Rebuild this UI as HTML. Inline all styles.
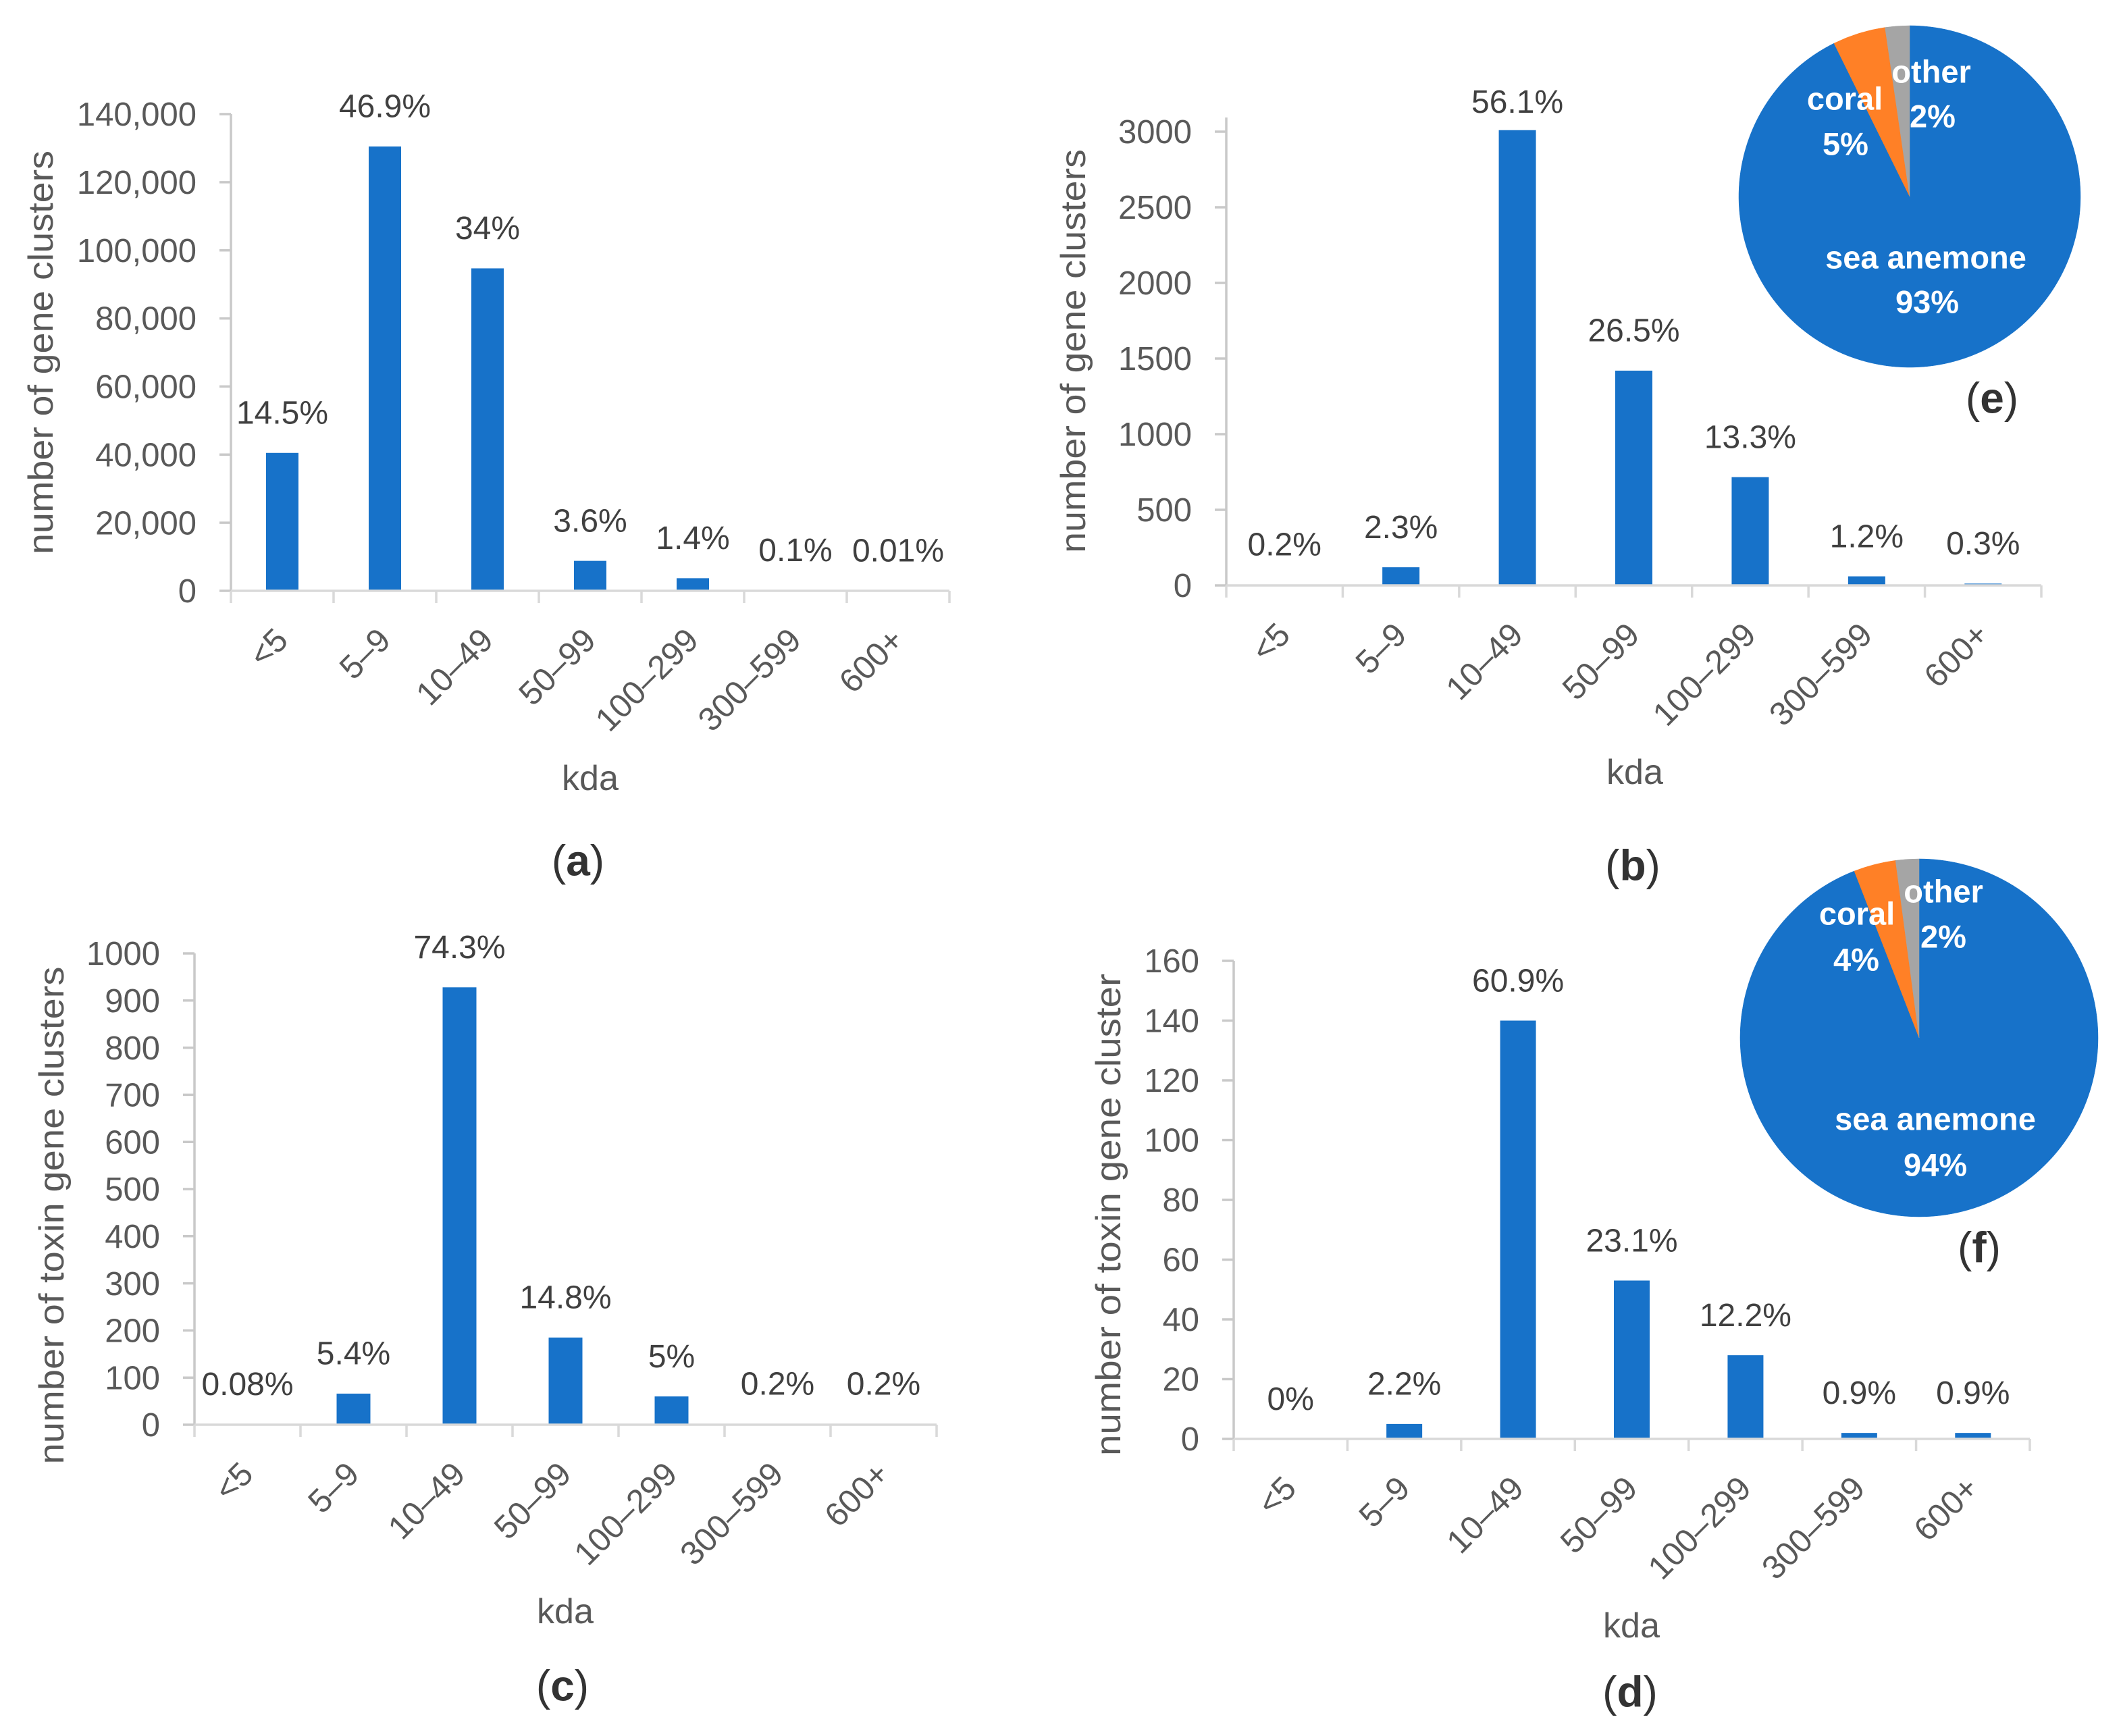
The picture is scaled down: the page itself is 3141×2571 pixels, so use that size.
<!DOCTYPE html>
<html lang="en">
<head>
<meta charset="utf-8">
<title>Size distribution of gene clusters</title>
<style>
html,body{margin:0;padding:0;background:#fff;}
svg{display:block;}
text{font-family:"Liberation Sans",Arial,sans-serif;}
.tick{font-size:49px;fill:#595959;}
.cat{font-size:49px;fill:#595959;}
.val{font-size:48px;fill:#404040;}
.ytitle{font-size:52px;fill:#595959;}
.xtitle{font-size:52px;fill:#595959;}
.panel{font-size:64px;fill:#333;}
.panel tspan{font-weight:bold;}
.pie-text{font-size:47px;font-weight:bold;fill:#fff;}
</style>
</head>
<body>
<svg xmlns="http://www.w3.org/2000/svg" width="3141" height="2571" viewBox="0 0 3141 2571">
  <rect width="3141" height="2571" fill="#fff"/>
  <g id="chart-a"></g>
  <g id="chart-b"></g>
  <g id="chart-c"></g>
  <g id="chart-d"></g>
  <g id="pie-e"></g>
  <g id="pie-f"></g>

  <text class="panel" x="856" y="1274" dy=".35em" text-anchor="middle">(<tspan>a</tspan>)</text>
  <text class="panel" x="2418" y="1281" dy=".35em" text-anchor="middle">(<tspan>b</tspan>)</text>
  <text class="panel" x="833" y="2496" dy=".35em" text-anchor="middle">(<tspan>c</tspan>)</text>
  <text class="panel" x="2414" y="2505" dy=".35em" text-anchor="middle">(<tspan>d</tspan>)</text>
  <text class="panel" x="2950" y="589" dy=".35em" text-anchor="middle">(<tspan>e</tspan>)</text>
  <text class="panel" x="2931" y="1847" dy=".35em" text-anchor="middle">(<tspan>f</tspan>)</text>
</svg>
<script>
var categories = ['<5', '5–9', '10–49', '50–99', '100–299', '300–599', '600+'];

var aValues = [40500, 130500, 94700, 8800, 3700, 200, 20];
var aPercents = ['14.5%', '46.9%', '34%', '3.6%', '1.4%', '0.1%', '0.01%'];
var aTicks = [0, 20000, 40000, 60000, 80000, 100000, 120000, 140000];
var aTickLabels = ['0', '20,000', '40,000', '60,000', '80,000', '100,000', '120,000', '140,000'];

var bValues = [5, 120, 3010, 1420, 716, 60, 12];
var bPercents = ['0.2%', '2.3%', '56.1%', '26.5%', '13.3%', '1.2%', '0.3%'];
var bTicks = [0, 500, 1000, 1500, 2000, 2500, 3000];
var bTickLabels = ['0', '500', '1000', '1500', '2000', '2500', '3000'];

var cValues = [1, 66, 928, 185, 60, 2, 2];
var cPercents = ['0.08%', '5.4%', '74.3%', '14.8%', '5%', '0.2%', '0.2%'];
var cTicks = [0, 100, 200, 300, 400, 500, 600, 700, 800, 900, 1000];
var cTickLabels = ['0', '100', '200', '300', '400', '500', '600', '700', '800', '900', '1000'];

var dValues = [0, 5, 140, 53, 28, 2, 2];
var dPercents = ['0%', '2.2%', '60.9%', '23.1%', '12.2%', '0.9%', '0.9%'];
var dTicks = [0, 20, 40, 60, 80, 100, 120, 140, 160];
var dTickLabels = ['0', '20', '40', '60', '80', '100', '120', '140', '160'];

var eSliceNames = ['sea anemone', 'coral', 'other'];
var eSliceValues = [92.7, 5.0, 2.3];
var fSliceNames = ['sea anemone', 'coral', 'other'];
var fSliceValues = [94.1, 3.8, 2.1];
var sliceColors = ['#1772C9', '#FF8026', '#A5A5A5'];

var NS = 'http://www.w3.org/2000/svg';
var BLUE = '#1772C9';

function make(parent, tag, attrs, content) {
  var el = document.createElementNS(NS, tag);
  for (var k in attrs) { el.setAttribute(k, attrs[k]); }
  if (content !== undefined) { el.textContent = content; }
  parent.appendChild(el);
  return el;
}

function drawBarChart(id, opt, values, percents, ticks, tickLabels) {
  var g = document.getElementById(id);
  var yScale = function (v) { return opt.y0 - (v / opt.max) * (opt.y0 - opt.yMax); };
  var step = (opt.xRight - opt.x0) / categories.length;
  var xScale = function (i) { return opt.x0 + step * (i + 0.5); };

  values.forEach(function (v, i) {
    var top = yScale(v);
    var bar = make(g, 'rect', { x: xScale(i) - opt.barW / 2, y: top, width: opt.barW, height: Math.max(opt.y0 - top, 0), fill: BLUE });
    
    

    var label = make(g, 'text', { 'class': 'val', x: xScale(i), y: Math.max(top - 60, opt.labelMinY), dy: '.35em', 'text-anchor': 'middle' }, percents[i]);
    
    
  });

  var yAxis = make(g, 'line', { x1: opt.x0, x2: opt.x0, y1: opt.axisTop, y2: opt.y0 + 1.5, stroke: '#c9c9c9', 'stroke-width': 3.5 });
  
  

  ticks.forEach(function (t, i) {
    var y = yScale(t);
    var mark = make(g, 'line', { x1: opt.x0 - 17, x2: opt.x0, y1: y, y2: y, stroke: '#c9c9c9', 'stroke-width': 3.5 });
    
    

    var text = make(g, 'text', { 'class': 'tick', x: opt.x0 - 51, y: y, dy: '.35em', 'text-anchor': 'end' }, tickLabels[i]);
    
    
  });

  var xAxis = make(g, 'line', { x1: opt.x0, x2: opt.xRight, y1: opt.y0, y2: opt.y0, stroke: '#d9d9d9', 'stroke-width': 3.5 });
  
  

  for (var b = 0; b <= categories.length; b++) {
    var bx = opt.x0 + step * b;
    var xMark = make(g, 'line', { x1: bx, x2: bx, y1: opt.y0, y2: opt.y0 + 18, stroke: '#d9d9d9', 'stroke-width': 3.5 });
    
    
  }

  categories.forEach(function (c, i) {
    var ax = xScale(i) - 1;
    var ay = opt.y0 + 64;
    var cat = make(g, 'text', { 'class': 'cat', x: ax, y: ay, dy: '.35em', 'text-anchor': 'end', transform: 'rotate(-45 ' + ax + ' ' + ay + ')' }, c);
    
    
  });

  var yTitle = make(g, 'text', { 'class': 'ytitle', x: opt.yTitleX, y: opt.yTitleY, dy: '.35em', 'text-anchor': 'middle', textLength: opt.yTitleLen, lengthAdjust: 'spacingAndGlyphs', transform: 'rotate(-90 ' + opt.yTitleX + ' ' + opt.yTitleY + ')' }, opt.yTitle);
  
  

  var xTitle = make(g, 'text', { 'class': 'xtitle', x: opt.xTitleX, y: opt.xTitleY, dy: '.35em', 'text-anchor': 'middle', textLength: 84, lengthAdjust: 'spacingAndGlyphs' }, 'kda');
  
  
}

function drawPie(id, opt, names, values) {
  var g = document.getElementById(id);
  var total = values.reduce(function (s, v) { return s + v; }, 0);
  var cum = 0;
  var point = function (frac) {
    var a = frac * 2 * Math.PI;
    return [opt.cx + opt.r * Math.sin(a), opt.cy - opt.r * Math.cos(a)];
  };
  values.forEach(function (v, i) {
    var p0 = point(cum / total);
    cum += v;
    var p1 = point(cum / total);
    var large = v / total > 0.5 ? 1 : 0;
    var d = 'M' + opt.cx + ' ' + opt.cy + 'L' + p0[0] + ' ' + p0[1] + 'A' + opt.r + ' ' + opt.r + ' 0 ' + large + ' 1 ' + p1[0] + ' ' + p1[1] + 'Z';
    var slice = make(g, 'path', { d: d, fill: sliceColors[i], stroke: sliceColors[i], 'stroke-width': 0.5 });
    
    
  });
}

function drawPieText(id, items) {
  var g = document.getElementById(id);
  items.forEach(function (it) {
    var t = make(g, 'text', { 'class': 'pie-text', x: it.x, y: it.y, dy: '.35em', 'text-anchor': 'middle' }, it.t);
    
    
  });
}

drawBarChart('chart-a', {
  x0: 342, xRight: 1406, y0: 875, yMax: 169, max: 140000, axisTop: 169, barW: 48, labelMinY: 0,
  yTitle: 'number of gene clusters', yTitleX: 60, yTitleY: 522, yTitleLen: 598, xTitleX: 874, xTitleY: 1152
}, aValues, aPercents, aTicks, aTickLabels);

drawBarChart('chart-b', {
  x0: 1816, xRight: 3023, y0: 867, yMax: 195, max: 3000, axisTop: 174, barW: 55, labelMinY: 150,
  yTitle: 'number of gene clusters', yTitleX: 1589, yTitleY: 520, yTitleLen: 598, xTitleX: 2421, xTitleY: 1143
}, bValues, bPercents, bTicks, bTickLabels);

drawBarChart('chart-c', {
  x0: 288, xRight: 1387, y0: 2110, yMax: 1412, max: 1000, axisTop: 1412, barW: 50, labelMinY: 0,
  yTitle: 'number of toxin gene clusters', yTitleX: 76, yTitleY: 1800, yTitleLen: 737, xTitleX: 837, xTitleY: 2386
}, cValues, cPercents, cTicks, cTickLabels);

drawBarChart('chart-d', {
  x0: 1827, xRight: 3006, y0: 2131, yMax: 1423, max: 160, axisTop: 1423, barW: 53, labelMinY: 0,
  yTitle: 'number of toxin gene cluster', yTitleX: 1641, yTitleY: 1799, yTitleLen: 714, xTitleX: 2416, xTitleY: 2407
}, dValues, dPercents, dTicks, dTickLabels);

drawPie('pie-e', { cx: 2828, cy: 291, r: 253 }, eSliceNames, eSliceValues);
drawPie('pie-f', { cx: 2842, cy: 1537, r: 265 }, fSliceNames, fSliceValues);

drawPieText('pie-e', [
  { t: 'other', x: 2860, y: 106 }, { t: '2%', x: 2862, y: 172 },
  { t: 'coral', x: 2732, y: 146 }, { t: '5%', x: 2733, y: 213 },
  { t: 'sea anemone', x: 2852, y: 381 }, { t: '93%', x: 2854, y: 447 }
]);
drawPieText('pie-f', [
  { t: 'other', x: 2878, y: 1320 }, { t: '2%', x: 2878, y: 1387 },
  { t: 'coral', x: 2750, y: 1353 }, { t: '4%', x: 2749, y: 1421 },
  { t: 'sea anemone', x: 2866, y: 1657 }, { t: '94%', x: 2866, y: 1725 }
]);
</script>
</body>
</html>
